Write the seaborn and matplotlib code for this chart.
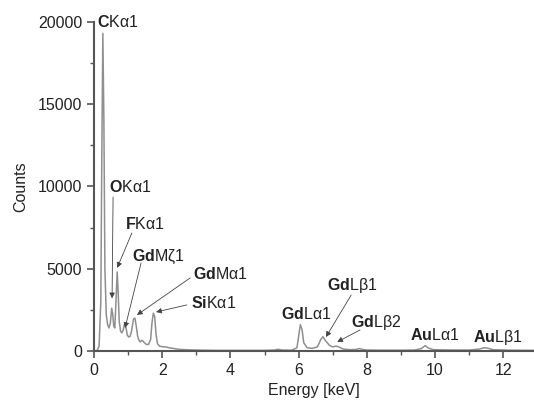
import matplotlib
matplotlib.use("Agg")
import matplotlib.pyplot as plt
import seaborn as sns
import pandas as pd

energy = [0.00, 0.10, 0.15, 0.20, 0.23, 0.26, 0.29, 0.32, 0.36, 0.40, 0.44, 0.48, 0.52, 0.55,
          0.58, 0.61, 0.64, 0.68, 0.71, 0.74, 0.78, 0.82, 0.86, 0.90, 0.94, 0.98, 1.02, 1.06,
          1.10, 1.16, 1.20, 1.24, 1.28, 1.32, 1.36, 1.40, 1.44, 1.48, 1.54, 1.60, 1.66, 1.70,
          1.74, 1.78, 1.82, 1.86, 1.92, 2.00, 2.10, 2.20, 2.35, 2.50, 2.80, 3.20, 3.60, 4.00,
          4.50, 5.00, 5.30, 5.40, 5.50, 5.80, 5.95, 6.00, 6.05, 6.10, 6.15, 6.25, 6.40, 6.55,
          6.65, 6.71, 6.78, 6.90, 7.00, 7.10, 7.18, 7.30, 7.50, 7.70, 7.78, 7.86, 8.00, 8.40,
          9.00, 9.40, 9.60, 9.71, 9.80, 9.95, 10.50, 11.00, 11.30, 11.44, 11.55, 11.70, 12.20, 12.90]
counts = [0, 50, 300, 3000, 12000, 19300, 14000, 5000, 2200, 1600, 1400, 1700, 2600, 2200,
          1500, 1400, 2800, 4800, 3500, 1800, 1200, 1100, 1300, 1700, 1400, 950, 850, 900,
          1200, 1950, 2000, 1500, 900, 650, 550, 650, 600, 500, 400, 400, 700, 1700,
          2300, 2100, 1000, 450, 300, 260, 250, 200, 150, 100, 70, 50, 40, 40,
          40, 40, 60, 110, 60, 50, 200, 900, 1600, 1300, 500, 200, 160, 250,
          700, 870, 650, 350, 250, 300, 250, 120, 80, 100, 150, 100, 60, 50,
          50, 60, 150, 330, 180, 80, 60, 60, 120, 200, 170, 80, 50, 40]

labels = [r"$\mathbf{C}$Kα1", r"$\mathbf{O}$Kα1", r"$\mathbf{F}$Kα1", r"$\mathbf{Gd}$Mζ1",
          r"$\mathbf{Gd}$Mα1", r"$\mathbf{Si}$Kα1", r"$\mathbf{Gd}$Lα1", r"$\mathbf{Gd}$Lβ1",
          r"$\mathbf{Gd}$Lβ2", r"$\mathbf{Au}$Lα1", r"$\mathbf{Au}$Lβ1"]
label_x = [0.10, 0.44, 0.91, 1.11, 2.90, 2.84, 5.48, 6.83, 7.54, 9.27, 11.10]
label_y = [20000, 9970, 7700, 5700, 4680, 2920, 2250, 4010, 1760, 970, 850]
tip_x = [None, 0.53, 0.68, 0.91, 1.26, 1.82, None, 6.80, 7.13, None, None]
tip_y = [None, 3200, 5050, 1400, 2190, 2370, None, 850, 550, None, None]
start_x = [None, 0.56, 1.11, 1.38, 2.82, 2.72, None, 7.54, 7.80, None, None]
start_y = [None, 9350, 7170, 5350, 4440, 2800, None, 3400, 1280, None, None]

sns.set_style("ticks")
plt.rcParams["font.family"] = ["Liberation Sans", "DejaVu Sans"]
plt.rcParams["mathtext.fontset"] = "custom"
plt.rcParams["mathtext.rm"] = "Liberation Sans"
plt.rcParams["mathtext.bf"] = "Liberation Sans:bold"

df = pd.DataFrame({"Energy": energy, "Counts": counts})

fig = plt.figure(figsize=(5.34, 4.12), dpi=100)
ax = fig.add_axes([0.176, 0.148, 0.824, 0.799])
sns.lineplot(data=df, x="Energy", y="Counts", ax=ax, color="#8f8f8f", linewidth=1.1)

ax.set_xlim(0, 12.9)
ax.set_ylim(0, 20000)
ax.set_xticks([0, 2, 4, 6, 8, 10, 12])
ax.set_xticks(range(1, 13, 2), minor=True)
ax.set_yticks([0, 5000, 10000, 15000, 20000])
ax.set_yticks([2500, 7500, 12500, 17500], minor=True)
ax.tick_params(axis="both", which="major", direction="out", length=5, width=1.2,
               color="#555555", labelsize=11.5, labelcolor="#222222")
ax.tick_params(axis="both", which="minor", direction="out", length=3, width=1.0,
               color="#555555")
for s in ["top", "right"]:
    ax.spines[s].set_visible(False)
for s in ["left", "bottom"]:
    ax.spines[s].set_linewidth(1.5)
    ax.spines[s].set_color("#555555")
ax.set_xlabel("Energy [keV]", fontsize=11.5, color="#222222", labelpad=4)
ax.set_ylabel("Counts", fontsize=11.5, color="#222222", labelpad=7)

for i, lab in enumerate(labels):
    ax.text(label_x[i], label_y[i], lab, fontsize=11.5, color="#222222",
            ha="left", va="center")
    if tip_x[i] is not None:
        ax.annotate("", xy=(tip_x[i], tip_y[i]), xytext=(start_x[i], start_y[i]),
                    arrowprops=dict(arrowstyle="-|>", color="#444444", lw=0.6,
                                    mutation_scale=8, shrinkA=0, shrinkB=0))

fig.savefig("out.png", dpi=100, facecolor="white")
